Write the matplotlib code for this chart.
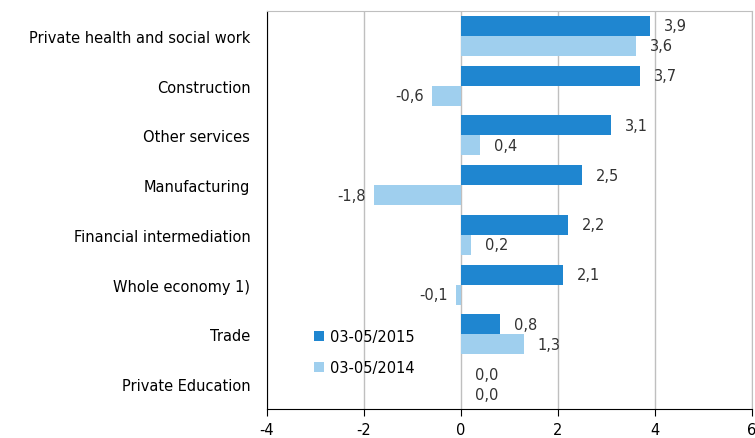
import matplotlib
matplotlib.use("Agg")
import matplotlib.pyplot as plt
import numpy as np

plt.rcParams['font.family'] = ['DejaVu Sans']

categories = ["Private health and social work", "Construction", "Other services",
              "Manufacturing", "Financial intermediation", "Whole economy 1)",
              "Trade", "Private Education"]
s2015 = [3.9, 3.7, 3.1, 2.5, 2.2, 2.1, 0.8, 0.0]
s2014 = [3.6, -0.6, 0.4, -1.8, 0.2, -0.1, 1.3, 0.0]
labels = ["03-05/2015", "03-05/2014"]
dark = "#1f86d0"
light = "#9fcfee"
FS = 10.5

fig = plt.figure(figsize=(7.55, 4.39), dpi=100)
ax = fig.add_axes([0.3536, 0.066, 0.6424, 0.9067])

y = np.arange(len(categories))
h = 0.4
b1 = ax.barh(y - h/2, s2015, height=h, color=dark, label=labels[0], zorder=3)
b2 = ax.barh(y + h/2, s2014, height=h, color=light, label=labels[1], zorder=3)

def fmt(v):
    return f"{v:.1f}".replace(".", ",")

for bars, vals in ((b1, s2015), (b2, s2014)):
    for bar, v in zip(bars, vals):
        yc = bar.get_y() + bar.get_height()/2
        if v >= 0:
            ax.annotate(fmt(v), (v, yc), xytext=(10, 0), textcoords="offset points",
                        ha="left", va="center", fontsize=FS, color="#333333")
        else:
            ax.annotate(fmt(v), (v, yc), xytext=(-6, 0), textcoords="offset points",
                        ha="right", va="center", fontsize=FS, color="#333333")

ax.set_xlim(-4, 6)
ax.set_ylim(len(categories) - 0.5, -0.5)
ax.set_xticks([-4, -2, 0, 2, 4, 6])
ax.set_xticklabels([str(t) for t in [-4, -2, 0, 2, 4, 6]], fontsize=FS)
ax.set_yticks(y)
ax.set_yticklabels(categories, fontsize=FS)
ax.tick_params(axis='y', length=0, pad=12)
ax.tick_params(axis='x', length=5, direction='out', pad=4)
ax.grid(axis='x', color="#bfbfbf", linewidth=1, zorder=0)
for s in ["top", "right"]:
    ax.spines[s].set_color("#bfbfbf")
ax.spines["left"].set_color("#000000")
ax.spines["bottom"].set_color("#000000")

ax.legend(loc="lower left", bbox_to_anchor=(0.085, 0.07), frameon=False, fontsize=FS,
          handlelength=0.7, handleheight=0.7, handletextpad=0.4, labelspacing=1.1,
          borderaxespad=0.0)

fig.savefig("out.png", dpi=100)
